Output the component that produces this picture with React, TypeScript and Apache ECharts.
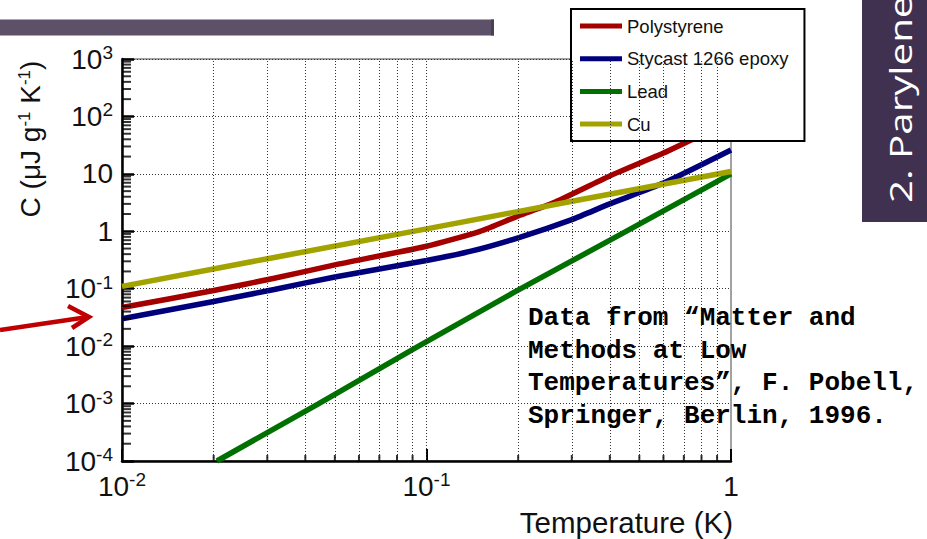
import React, { useEffect, useRef } from 'react';
import * as echarts from 'echarts';

// ---- data (T in K, C in µJ g^-1 K^-1) ----
const polyT = [0.01, 0.02, 0.0316, 0.05, 0.1, 0.15, 0.2, 0.26, 0.4, 0.6, 0.74, 1];
const polyC = [0.047, 0.093, 0.152, 0.26, 0.55, 1.0, 1.85, 3.1, 9.2, 23, 39, 79];

const stycastT = [0.01, 0.02, 0.0316, 0.05, 0.1, 0.14, 0.2, 0.3, 0.4, 0.6, 1];
const stycastC = [0.03, 0.06, 0.097, 0.16, 0.31, 0.45, 0.77, 1.6, 3.0, 6.9, 26];

const leadT = [0.0205, 0.044, 0.092, 0.195, 0.44, 1];
const leadC = [0.0001, 0.00098, 0.0093, 0.088, 0.92, 10];

const cuT = [0.01, 0.0316, 0.1, 0.316, 1];
const cuC = [0.11, 0.35, 1.1, 3.5, 11];

const seriesNames = ['Polystyrene', 'Stycast 1266 epoxy', 'Lead', 'Cu'];
const seriesColors = ['#A50000', '#00007D', '#007000', '#A3A300'];
const seriesSmooth = [0.2, 0.2, 0, 0];

// ---- axis / tick definitions ----
const xMin = 0.01;
const xMax = 1;
const yMin = 0.0001;
const yMax = 1000;
const xMinorTicks = [0.02, 0.03, 0.04, 0.05, 0.06, 0.07, 0.08, 0.09, 0.2, 0.3, 0.4, 0.5, 0.6, 0.7, 0.8, 0.9];
const xGridLines = [0.02, 0.03, 0.04, 0.05, 0.06, 0.07, 0.08, 0.09, 0.1, 0.2, 0.3, 0.4, 0.5, 0.6, 0.7, 0.8, 0.9];
const yDecades = [0.0001, 0.001, 0.01, 0.1, 1, 10, 100];
const minorMultipliers = [2, 3, 4, 5, 6, 7, 8, 9];

const annotation = 'Data from \u201cMatter and\nMethods at Low\nTemperatures\u201d, F. Pobell,\nSpringer, Berlin, 1996.';

const zip = (t: number[], c: number[]) => t.map((v, i) => [v, c[i]]);

export default function App() {
  const ref = useRef<HTMLDivElement>(null);

  useEffect(() => {
    const chart = echarts.init(ref.current!, null, { renderer: 'svg' });
    const font = "'Liberation Sans', Arial, Helvetica, sans-serif";
    const supLabel = (v: number) => {
      const e = Math.round(Math.log10(v));
      if (e === 0) return '1';
      if (e === 1) return '10';
      return `10{sup|${e}}`;
    };
    const supRich = {
      sup: { fontSize: 19, lineHeight: 19, verticalAlign: 'top', fontFamily: font, color: '#111' },
    };
    const yMinor: number[] = [];
    yDecades.forEach((d) => minorMultipliers.forEach((m) => yMinor.push(m * d)));

    const dataSeries = [
      zip(polyT, polyC),
      zip(stycastT, stycastC),
      zip(leadT, leadC),
      zip(cuT, cuC),
    ].map((data, i) => ({
      name: seriesNames[i],
      type: 'line',
      data,
      symbol: 'none',
      smooth: seriesSmooth[i],
      z: 3,
      lineStyle: { color: seriesColors[i], width: 5.5 },
      itemStyle: { color: seriesColors[i] },
    }));

    chart.setOption({
      animation: false,
      grid: {
        left: 122,
        top: 59,
        width: 609,
        height: 402,
        show: true,
        borderColor: '#444',
        borderWidth: 1,
        backgroundColor: 'transparent',
      },
      xAxis: {
        type: 'log',
        logBase: 10,
        min: xMin,
        max: xMax,
        axisLine: { show: true, onZero: false, lineStyle: { color: '#000', width: 2.5 } },
        axisTick: { show: true, inside: true, length: 12, lineStyle: { color: '#000', width: 2 } },
        minorTick: { show: false },
        splitLine: { show: false },
        axisLabel: {
          formatter: supLabel,
          fontSize: 28,
          lineHeight: 32,
          color: '#111',
          fontFamily: font,
          margin: 9,
          rich: supRich,
        },
      },
      yAxis: {
        type: 'log',
        logBase: 10,
        min: yMin,
        max: yMax,
        splitNumber: 7,
        axisLine: { show: true, onZero: false, lineStyle: { color: '#000', width: 2.5 } },
        axisTick: { show: true, inside: true, length: 12, lineStyle: { color: '#000', width: 2.5 } },
        minorTick: { show: false },
        splitLine: { show: true, lineStyle: { type: [1, 2], color: '#333', width: 1 } },
        axisLabel: {
          formatter: supLabel,
          fontSize: 28,
          lineHeight: 32,
          color: '#111',
          fontFamily: font,
          margin: 9,
          rich: supRich,
        },
      },
      legend: {
        data: seriesNames,
        orient: 'vertical',
        left: 571,
        top: 9,
        padding: [7, 16, 7, 9],
        itemGap: 12.7,
        itemWidth: 42,
        itemHeight: 5,
        itemTextGap: 7,
        icon: 'rect',
        backgroundColor: '#fff',
        borderColor: '#000',
        borderWidth: 2,
        borderRadius: 0,
        selectedMode: false,
        textStyle: { fontSize: 18.5, lineHeight: 20, color: '#111', fontFamily: font },
      },
      series: [
        {
          type: 'line',
          data: [[0.1, 1]],
          symbol: 'none',
          lineStyle: { opacity: 0 },
          silent: true,
          z: 1,
          markLine: {
            silent: true,
            symbol: ['none', 'none'],
            label: { show: false },
            lineStyle: { type: [1, 2], color: '#333', width: 1 },
            data: xGridLines.map((v) => ({ xAxis: v })),
          },
        },
        {
          type: 'scatter',
          data: xMinorTicks.map((v) => [v, yMin]),
          symbol: 'rect',
          symbolSize: [2, 6],
          symbolOffset: [0, -3],
          itemStyle: { color: '#000' },
          silent: true,
          clip: false,
          z: 5,
        },
        {
          type: 'scatter',
          data: yMinor.map((v) => [xMin, v]),
          symbol: 'rect',
          symbolSize: [9, 2],
          symbolOffset: [4.5, 0],
          itemStyle: { color: '#000' },
          silent: true,
          clip: false,
          z: 5,
        },
        ...dataSeries,
      ],
      graphic: [
        {
          type: 'rect',
          shape: { x: 0, y: 19.5, width: 494, height: 16 },
          style: { fill: '#5d5069' },
          z: 0,
        },
        {
          type: 'rect',
          shape: { x: 491, y: 19.5, width: 3, height: 16 },
          style: { fill: '#4a4150' },
          z: 0,
        },
        {
          type: 'rect',
          shape: { x: 862, y: 0, width: 65, height: 222 },
          style: { fill: '#413151' },
          z: 0,
        },
        {
          type: 'text',
          x: 900,
          y: 203,
          rotation: Math.PI / 2,
          scaleX: 1.3,
          style: {
            text: '2. Parylene',
            fill: '#ffffff',
            fontSize: 31,
            fontFamily: "'Open Sans', 'Noto Sans', sans-serif",
            textAlign: 'left',
            textVerticalAlign: 'middle',
          },
          z: 10,
        },
        {
          type: 'text',
          x: 30,
          y: 139,
          rotation: Math.PI / 2,
          style: {
            text: 'C (\u03bcJ g{sup|-1} K{sup|-1})',
            fill: '#111',
            fontSize: 28,
            fontFamily: font,
            textAlign: 'center',
            textVerticalAlign: 'middle',
            rich: {
              sup: { fontSize: 17, lineHeight: 17, verticalAlign: 'top', fontFamily: font, fill: '#111' },
            },
          },
          z: 10,
        },
        {
          type: 'text',
          x: 733,
          y: 522,
          style: {
            text: 'Temperature (K)',
            fill: '#111',
            fontSize: 29.5,
            fontFamily: font,
            textAlign: 'right',
            textVerticalAlign: 'middle',
          },
          z: 10,
        },
        {
          type: 'text',
          x: 528,
          y: 302,
          style: {
            text: annotation,
            fill: '#000',
            fontSize: 26,
            fontWeight: 'bold',
            lineHeight: 32.5,
            fontFamily: "'Courier New', 'Liberation Mono', monospace",
            textVerticalAlign: 'top',
          },
          z: 100,
        },
        {
          type: 'polyline',
          shape: { points: [[0, 330], [88, 317]] },
          style: { stroke: '#C00000', lineWidth: 4.5, fill: null },
          z: 100,
        },
        {
          type: 'polyline',
          shape: { points: [[68, 306], [89, 317], [72, 328]] },
          style: { stroke: '#C00000', lineWidth: 4.5, fill: null, lineJoin: 'miter' },
          z: 100,
        },
      ],
    });

    return () => chart.dispose();
  }, []);

  return (
    <div
      ref={ref}
      style={{ position: 'absolute', left: 0, top: 0, width: 927, height: 539 }}
    />
  );
}
